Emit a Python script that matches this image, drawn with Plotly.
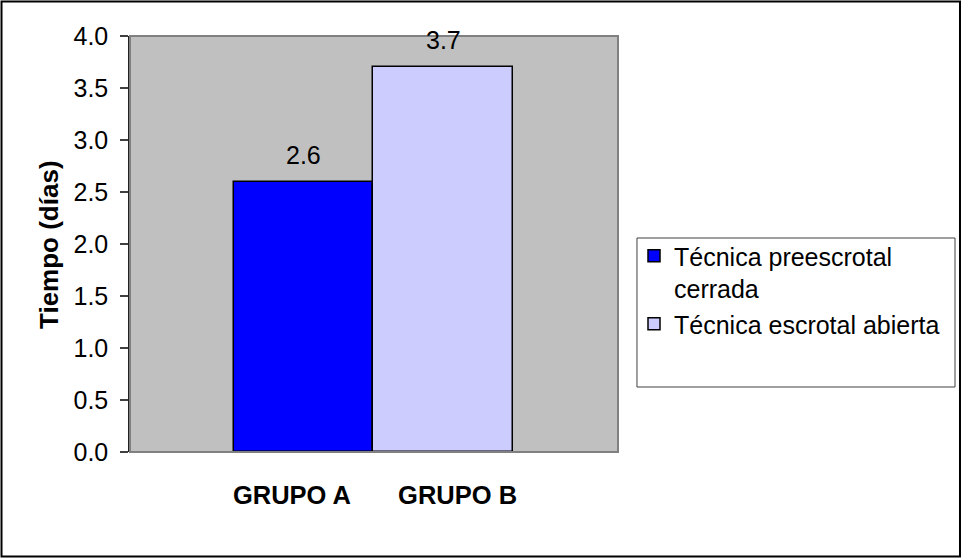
import plotly.graph_objects as go

# Mean recovery time per group
categories = ["GRUPO A", "GRUPO B"]
series_names = ["Técnica preescrotal<br>cerrada", "Técnica escrotal abierta"]
values = [2.6, 3.7]
colors = ["#0000ff", "#ccccff"]
y_ticks = [0.0, 0.5, 1.0, 1.5, 2.0, 2.5, 3.0, 3.5, 4.0]

FONT = "Liberation Sans, Arial, sans-serif"

# bars sit at integer slots; category labels are nudged off the bar centres
positions = list(range(len(categories)))
label_offsets = [-0.084, 0.103]
label_positions = [p + o for p, o in zip(positions, label_offsets)]

fig = go.Figure()
for pos, name, val, col in zip(positions, series_names, values, colors):
    fig.add_trace(go.Bar(
        x=[pos], y=[val], name=name, width=1.0,
        marker=dict(color=col, line=dict(color="#000000", width=1.5)),
    ))

# value labels above each bar
for pos, val in zip(positions, values):
    fig.add_annotation(
        x=pos, y=val, xref="x", yref="y", text=f"{val:.1f}",
        showarrow=False, yanchor="middle", yshift=27,
        font=dict(family=FONT, size=25, color="#000000"),
    )

# rotated axis title
fig.add_annotation(
    x=-0.166, y=0.5, xref="paper", yref="paper", text="<b>Tiempo (días)</b>",
    textangle=-90, showarrow=False, xanchor="center", yanchor="middle",
    font=dict(family=FONT, size=26, color="#000000"),
)

# plot-area border, legend box, outer chart border
fig.add_shape(type="rect", xref="paper", yref="paper", x0=0, x1=1, y0=0, y1=1,
              line=dict(color="#808080", width=2), layer="above")
fig.add_shape(type="rect", xref="paper", yref="paper",
              x0=1.0389, x1=1.6906, y0=0.15625, y1=0.5144,
              line=dict(color="#404040", width=1), fillcolor="rgba(0,0,0,0)")
fig.add_shape(type="rect", xref="paper", yref="paper",
              x0=-0.2633, x1=1.7008, y0=-0.2512, y1=1.0829,
              line=dict(color="#000000", width=2), fillcolor="rgba(0,0,0,0)")

fig.update_layout(
    width=962, height=558,
    margin=dict(l=130, r=344, t=36, b=106),
    paper_bgcolor="#ffffff", plot_bgcolor="#c0c0c0",
    barmode="overlay", bargap=0,
    font=dict(family=FONT, color="#000000"),
    showlegend=True,
    legend=dict(
        xref="container", yref="container", x=634 / 962, y=1 - 233 / 558,
        xanchor="left", yanchor="top", valign="top",
        font=dict(family=FONT, size=25, color="#000000"),
        bgcolor="rgba(0,0,0,0)", borderwidth=0,
        tracegroupgap=1, itemwidth=30,
    ),
    xaxis=dict(
        range=[-1.245, 2.253],
        tickvals=label_positions, ticktext=categories,
        showgrid=False, zeroline=False, showline=False, ticks="",
        ticklabelstandoff=25,
        tickfont=dict(family=FONT, size=25.5, color="#000000", weight="bold"),
    ),
    yaxis=dict(
        range=[0, 4], tickvals=y_ticks, tickformat=".1f",
        showgrid=False, zeroline=False,
        showline=True, linecolor="#202020", linewidth=1.5,
        ticks="outside", ticklen=8, tickcolor="#404040", tickwidth=1.5,
        ticklabelstandoff=7,
        tickfont=dict(family=FONT, size=25, color="#000000"),
    ),
)

fig.write_html("out.html")
